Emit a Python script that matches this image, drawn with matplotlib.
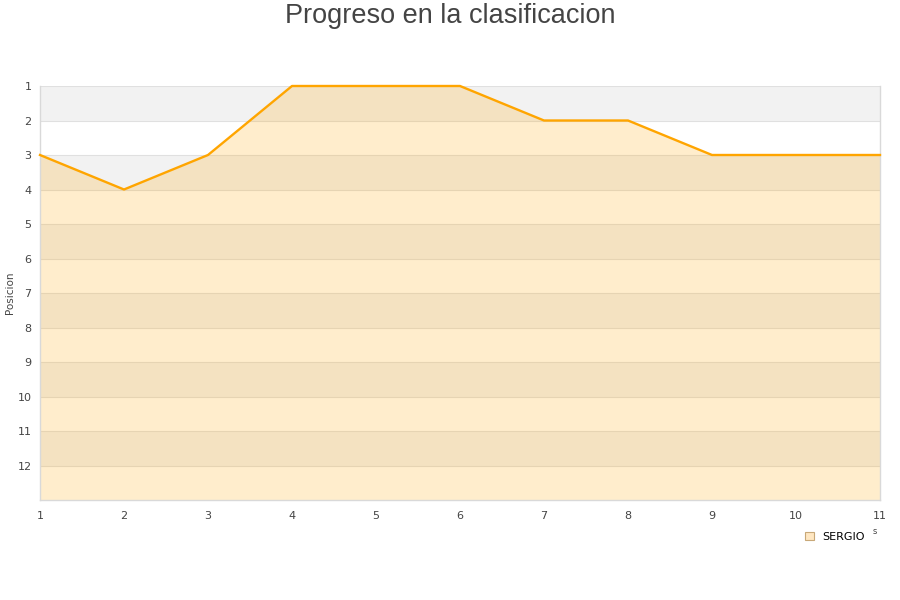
import matplotlib
matplotlib.use("Agg")
import matplotlib.pyplot as plt
from matplotlib.patches import Patch

jornadas = [1, 2, 3, 4, 5, 6, 7, 8, 9, 10, 11]
posiciones = [3, 4, 3, 1, 1, 1, 2, 2, 3, 3, 3]
y_ticks = list(range(1, 13))
serie = "SERGIO"

fig = plt.figure(figsize=(9, 6), dpi=100)
ax = fig.add_axes([40/900, 1-500/600, 840/900, 414/600])

ax.set_xlim(1, 11)
ax.set_ylim(13, 1)

# alternating bands
for i in range(1, 13, 2):
    ax.axhspan(i, i+1, color="#f2f2f2", lw=0, zorder=0)
for y in range(1, 13):
    ax.axhline(y, color="#e0e0e0", lw=0.8, zorder=1)

ax.fill_between(jornadas, posiciones, 13, color="#ffa500", alpha=0.2, lw=0, zorder=2)
ax.plot(jornadas, posiciones, color="#ffa500", lw=1.7, zorder=3, clip_on=False)

ax.set_yticks(y_ticks)
ax.set_xticks(jornadas)
ax.tick_params(axis="both", length=0, labelsize=8, colors="#444444")
ax.tick_params(axis="x", pad=8)
ax.tick_params(axis="y", pad=6)
ax.spines["top"].set_visible(False)
for s in ["left", "bottom", "right"]:
    ax.spines[s].set_color("#d9d9d9")
    ax.spines[s].set_linewidth(1)

ax.set_ylabel("Posicion", fontsize=7.5, color="#444444")
ax.yaxis.set_label_coords(-0.0295, 0.5)

fig.text(0.5, 1-16/600, "Progreso en la clasificacion", ha="center", va="center",
         fontsize=19.5, color="#444444", family="Liberation Sans")

handle = Patch(facecolor="#ffe7c2", edgecolor="#c8a878", lw=0.8)
fig.legend([handle], [serie], loc="center", bbox_to_anchor=(835/900, 1-537/600),
           frameon=False, fontsize=8, handlelength=0.8, handleheight=0.8,
           handletextpad=0.8)
fig.text(875/900, 1-531/600, "s", fontsize=6, color="#444444", ha="center", va="center")

fig.savefig("out.png", dpi=100)
